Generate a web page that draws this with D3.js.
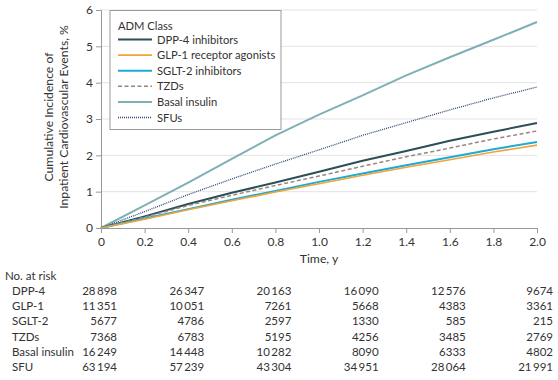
<!DOCTYPE html>
<html><head><meta charset="utf-8">
<script src="https://cdn.jsdelivr.net/npm/d3@7"></script>
<style>body{margin:0;background:#fff}svg{display:block}text{font-family:Lato,"Open Sans",sans-serif;fill:#333}</style>
</head><body><svg id="c" width="558" height="380"></svg>
<script>
const times = [0,0.2,0.4,0.6,0.8,1.0,1.2,1.4,1.6,1.8,2.0];
const dpp4 = [0,0.32,0.66,0.97,1.25,1.55,1.85,2.12,2.40,2.65,2.89];
const glp1 = [0,0.24,0.50,0.75,0.99,1.22,1.45,1.67,1.88,2.09,2.28];
const sglt2 = [0,0.26,0.52,0.78,1.02,1.27,1.50,1.73,1.95,2.17,2.37];
const tzd = [0,0.30,0.62,0.90,1.17,1.43,1.70,1.96,2.20,2.45,2.67];
const basal = [0,0.62,1.25,1.90,2.55,3.12,3.65,4.20,4.70,5.18,5.67];
const sfu = [0,0.45,0.92,1.35,1.76,2.15,2.55,2.90,3.25,3.58,3.88];
const seriesNames = ["DPP-4 inhibitors","GLP-1 receptor agonists","SGLT-2 inhibitors","TZDs","Basal insulin","SFUs"];
const xTicks = [0,0.2,0.4,0.6,0.8,1.0,1.2,1.4,1.6,1.8,2.0];
const yTicks = [0,1,2,3,4,5,6];
const riskTimes = [0,0.4,0.8,1.2,1.6,2.0];
const riskLabels = ["DPP-4","GLP-1","SGLT-2","TZDs","Basal insulin","SFU"];
const riskDPP4 = [28898,26347,20163,16090,12576,9674];
const riskGLP1 = [11351,10051,7261,5668,4383,3361];
const riskSGLT2 = [5677,4786,2597,1330,585,215];
const riskTZD = [7368,6783,5195,4256,3485,2769];
const riskBasal = [16249,14448,10282,8090,6333,4802];
const riskSFU = [63194,57239,43304,34951,28064,21991];

const styles = [
 {c:"#2b4f57",w:2,d:null},
 {c:"#f2a33a",w:1.6,d:null},
 {c:"#1eaad6",w:2,d:null},
 {c:"#9a857a",w:1.5,d:"4,2.5"},
 {c:"#7fb0b6",w:2,d:null},
 {c:"#2f4775",w:1.3,d:"1,1"}
];
const data = [dpp4,glp1,sglt2,tzd,basal,sfu];
const FL = "11.2px", FT = "11.5px", FA = "12px";

const svg = d3.select("#c");
const x = d3.scaleLinear().domain([0,2]).range([101,537]);
const y = d3.scaleLinear().domain([0,6]).range([228,10]);

// gridlines
svg.append("g").selectAll("line").data(yTicks.filter(d=>d>0)).join("line")
 .attr("x1",x(0)).attr("x2",x(2)).attr("y1",d=>y(d)).attr("y2",d=>y(d))
 .attr("stroke","#e3e3e3").attr("stroke-width",1);

// axes
const yAxis = svg.append("g").attr("transform",`translate(${x(0)},0)`)
 .call(d3.axisLeft(y).tickValues(yTicks).tickSize(5).tickPadding(3).tickFormat(d3.format("d")));
const xAxis = svg.append("g").attr("transform",`translate(0,${y(0)})`)
 .call(d3.axisBottom(x).tickValues(xTicks).tickSize(5).tickPadding(4).tickFormat(d=>d===0?"0":d3.format(".1f")(d)));
[xAxis,yAxis].forEach(a=>{
 a.selectAll("path,line").attr("stroke","#999");
 a.selectAll("text").style("font-size",FA).style("font-family","Lato").attr("fill","#333");
});

// lines
const line = d3.line().x((d,i)=>x(times[i])).y(d=>y(d));
const order = [4,5,0,3,2,1];
order.forEach(i=>{
 svg.append("path").datum(data[i]).attr("d",line).attr("fill","none")
  .attr("stroke",styles[i].c).attr("stroke-width",styles[i].w)
  .attr("stroke-dasharray",styles[i].d);
});

// axis titles
svg.append("text").attr("transform",`translate(53,117) rotate(-90)`).attr("text-anchor","middle")
 .style("font-size","12.2px").text("Cumulative Incidence of");
svg.append("text").attr("transform",`translate(68,117) rotate(-90)`).attr("text-anchor","middle")
 .style("font-size","12.2px").text("Inpatient Cardiovascular Events, %");
svg.append("text").attr("x",(x(0)+x(2))/2).attr("y",263).attr("text-anchor","middle")
 .style("font-size","12.2px").text("Time, y");

// legend
const lg = svg.append("g");
lg.append("rect").attr("x",110).attr("y",10.5).attr("width",171).attr("height",119)
 .attr("fill","#fff").attr("stroke","#999").attr("stroke-width",1);
lg.append("text").attr("x",118).attr("y",30).style("font-size",FL).text("ADM Class");
seriesNames.forEach((n,i)=>{
 const yy = 39.5 + i*15.6;
 lg.append("line").attr("x1",118).attr("x2",152).attr("y1",yy).attr("y2",yy)
  .attr("stroke",styles[i].c).attr("stroke-width",styles[i].w).attr("stroke-dasharray",styles[i].d);
 lg.append("text").attr("x",157).attr("y",yy+4).style("font-size",FL).text(n);
});

// number at risk
const fmt = v => v>=10000 ? String(v).slice(0,-3)+"\u2009"+String(v).slice(-3) : String(v);
svg.append("text").attr("x",5).attr("y",280).style("font-size",FT).text("No. at risk");
const risk = [riskDPP4,riskGLP1,riskSGLT2,riskTZD,riskBasal,riskSFU];
riskLabels.forEach((lab,r)=>{
 const yy = 295 + r*15.2;
 svg.append("text").attr("x",12).attr("y",yy).style("font-size",FT).text(lab);
 risk[r].forEach((v,j)=>{
  svg.append("text").attr("x",x(riskTimes[j])+16).attr("y",yy).attr("text-anchor","end")
   .style("font-size",FT).text(fmt(v));
 });
});
</script></body></html>
